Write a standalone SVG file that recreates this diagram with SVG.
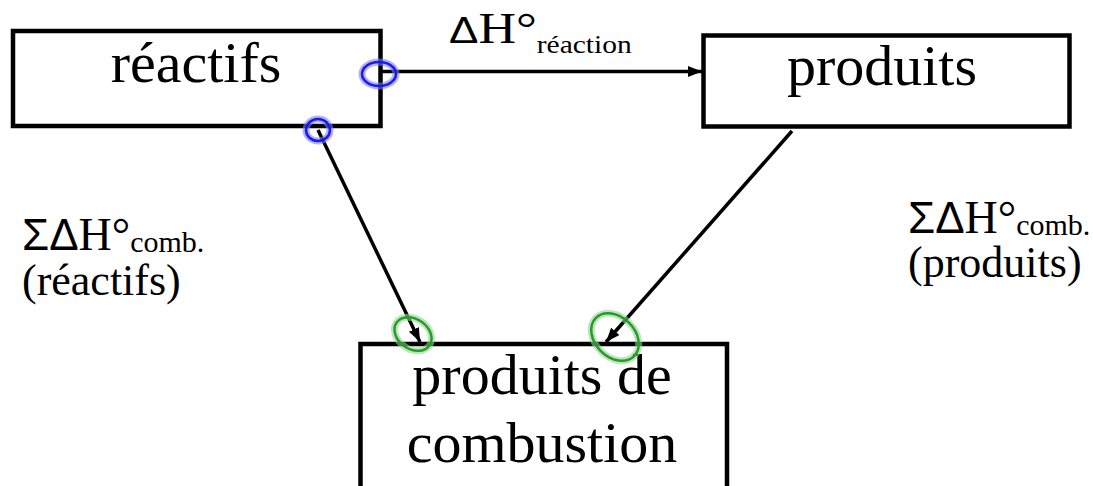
<svg xmlns="http://www.w3.org/2000/svg" width="1093" height="486" viewBox="0 0 1093 486">
<style>
.box{fill:#fff;stroke:#000;stroke-width:4.5}
.t{font-family:'Liberation Serif','DejaVu Serif',serif;fill:#000}
.s{font-family:'Liberation Sans','DejaVu Sans',sans-serif;fill:#000}
.c{fill:none;stroke:#000;stroke-width:3.5}
.halo-b{fill:none;stroke:#7d7dff;stroke-width:7;opacity:0.6}
.ink-b{fill:none;stroke:#1a1ae6;stroke-width:2.5}
.halo-g{fill:none;stroke:#8fd68f;stroke-width:7;opacity:0.6}
.ink-g{fill:none;stroke:#2a9a2a;stroke-width:2.5}
</style>
<defs>
<marker id="ah" markerUnits="userSpaceOnUse" markerWidth="15" markerHeight="12" refX="14" refY="5.5" orient="auto">
<path d="M0,0 L14,5.5 L0,11 z" fill="#000"/>
</marker>
</defs>
<rect width="1093" height="486" fill="#fff"/>

<g id="reactifs">
<rect class="box" x="13" y="31" width="367.5" height="95"/>
<text class="t" font-family="Liberation Serif, serif" x="196" y="82" font-size="58" text-anchor="middle">réactifs</text>
</g>

<g id="produits">
<rect class="box" x="703.5" y="35.5" width="366" height="91"/>
<text class="t" font-family="Liberation Serif, serif" x="882" y="85" font-size="58" text-anchor="middle">produits</text>
</g>

<g id="combustion">
<rect class="box" x="360.5" y="344" width="366.5" height="160"/>
<text class="t" font-family="Liberation Serif, serif" x="542" y="394" font-size="58" text-anchor="middle">produits de</text>
<text class="t" font-family="Liberation Serif, serif" x="542" y="462" font-size="58" text-anchor="middle">combustion</text>
</g>

<g id="connectors">
<line class="c" x1="381" y1="71.5" x2="702" y2="71.5" marker-end="url(#ah)"/>
<line class="c" x1="318" y1="130" x2="420" y2="342" marker-end="url(#ah)"/>
<line class="c" x1="792" y1="131" x2="606" y2="342" marker-end="url(#ah)"/>
</g>

<g id="label-reaction" transform="translate(449,43) scale(1,0.84)">
<text x="0" y="0"><tspan class="s" font-size="44">Δ</tspan><tspan class="t" font-family="Liberation Serif, serif" font-size="52">H°</tspan><tspan class="t" font-family="Liberation Serif, serif" font-size="29.5" dy="12">réaction</tspan></text>
</g>

<g id="label-comb-reactifs">
<text x="22" y="250"><tspan class="s" font-size="44">ΣΔ</tspan><tspan class="t" font-family="Liberation Serif, serif" font-size="46">H°</tspan><tspan class="t" font-family="Liberation Serif, serif" font-size="30" dy="2">comb.</tspan></text>
<text class="t" font-family="Liberation Serif, serif" x="22" y="295" font-size="44">(réactifs)</text>
</g>

<g id="label-comb-produits">
<text x="908" y="233"><tspan class="s" font-size="44">ΣΔ</tspan><tspan class="t" font-family="Liberation Serif, serif" font-size="46">H°</tspan><tspan class="t" font-family="Liberation Serif, serif" font-size="30" dy="2">comb.</tspan></text>
<text class="t" font-family="Liberation Serif, serif" x="908" y="277" font-size="44">(produits)</text>
</g>

<g id="annotations">
<ellipse class="halo-b" cx="379" cy="74" rx="17" ry="12"/>
<ellipse class="ink-b" cx="379" cy="74" rx="17" ry="12"/>
<ellipse class="halo-b" cx="318" cy="130" rx="12" ry="11"/>
<ellipse class="ink-b" cx="318" cy="130" rx="12" ry="11"/>
<ellipse class="halo-g" cx="413" cy="334" rx="20" ry="15" transform="rotate(35 413 334)"/>
<ellipse class="ink-g" cx="413" cy="334" rx="20" ry="15" transform="rotate(35 413 334)"/>
<ellipse class="halo-g" cx="615" cy="337" rx="27" ry="20" transform="rotate(45 615 337)"/>
<ellipse class="ink-g" cx="615" cy="337" rx="27" ry="20" transform="rotate(45 615 337)"/>
</g>
</svg>
